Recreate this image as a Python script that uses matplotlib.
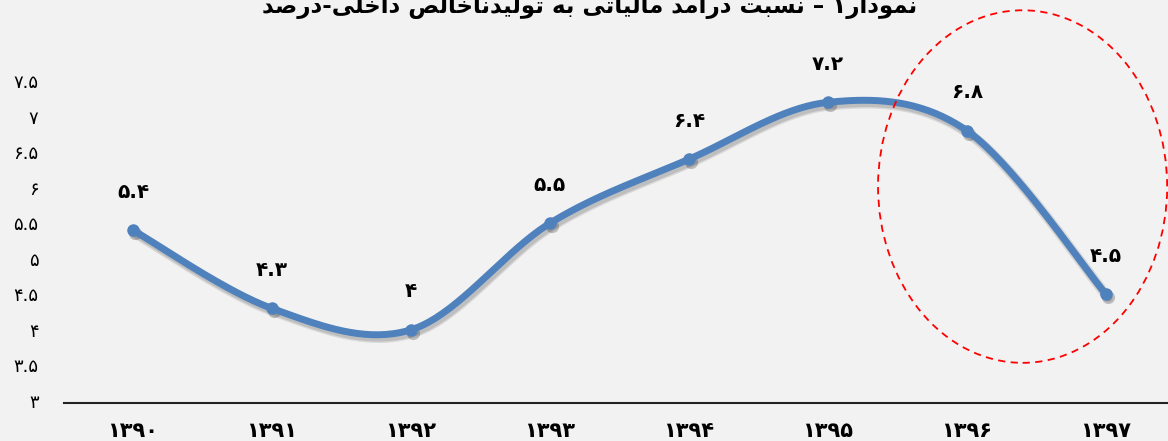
import numpy as np
import matplotlib
matplotlib.use("Agg")
import matplotlib.pyplot as plt
import matplotlib.transforms as mtransforms
from matplotlib.patches import Ellipse

plt.rcParams['font.family'] = ['DejaVu Sans']

# data
years = ['۱۳۹۰', '۱۳۹۱', '۱۳۹۲', '۱۳۹۳', '۱۳۹۴', '۱۳۹۵', '۱۳۹۶', '۱۳۹۷']
values = [5.4, 4.3, 4.0, 5.5, 6.4, 7.2, 6.8, 4.5]
value_labels = ['۵.۴', '۴.۳', '۴', '۵.۵', '۶.۴', '۷.۲', '۶.۸', '۴.۵']
y_ticks = [3, 3.5, 4, 4.5, 5, 5.5, 6, 6.5, 7, 7.5]
y_tick_labels = ['۳', '۳.۵', '۴', '۴.۵', '۵', '۵.۵', '۶', '۶.۵', '۷', '۷.۵']
title = 'نمودار۱ – نسبت درآمد مالیاتی به تولیدناخالص داخلی-درصد'

# arabic presentation forms: isolated, final, initial, medial
FORMS = {
    'ا': ('\uFE8D', '\uFE8E'),
    'آ': ('\uFE81', '\uFE82'),
    'د': ('\uFEA9', '\uFEAA'),
    'ر': ('\uFEAD', '\uFEAE'),
    'و': ('\uFEED', '\uFEEE'),
    'ب': ('\uFE8F', '\uFE90', '\uFE91', '\uFE92'),
    'ت': ('\uFE95', '\uFE96', '\uFE97', '\uFE98'),
    'خ': ('\uFEA5', '\uFEA6', '\uFEA7', '\uFEA8'),
    'س': ('\uFEB1', '\uFEB2', '\uFEB3', '\uFEB4'),
    'ص': ('\uFEB9', '\uFEBA', '\uFEBB', '\uFEBC'),
    'ل': ('\uFEDD', '\uFEDE', '\uFEDF', '\uFEE0'),
    'م': ('\uFEE1', '\uFEE2', '\uFEE3', '\uFEE4'),
    'ن': ('\uFEE5', '\uFEE6', '\uFEE7', '\uFEE8'),
    'ه': ('\uFEE9', '\uFEEA', '\uFEEB', '\uFEEC'),
    'ی': ('\uFBFC', '\uFBFD', '\uFBFE', '\uFBFF'),
}


def shape(text):
    # no bidi/reshaper available, so join letters by hand and reverse
    out = []
    for i, ch in enumerate(text):
        if ch not in FORMS:
            out.append(ch)
            continue
        f = FORMS[ch]
        prev = text[i - 1] if i > 0 else ''
        nxt = text[i + 1] if i + 1 < len(text) else ''
        join_prev = prev in FORMS and len(FORMS[prev]) == 4
        join_next = nxt in FORMS and len(f) == 4
        if join_prev and join_next:
            out.append(f[3])
        elif join_prev:
            out.append(f[1])
        elif join_next:
            out.append(f[2])
        else:
            out.append(f[0])
    return ''.join(out)[::-1]


def smooth(xs, ys, n=40):
    # excel-like smoothed line (catmull-rom as bezier)
    P = np.column_stack([xs, ys]).astype(float)
    P = np.vstack([P[0], P, P[-1]])
    curve = []
    t = np.linspace(0, 1, n)[:, None]
    for i in range(1, len(P) - 2):
        p0, p1, p2, p3 = P[i - 1], P[i], P[i + 1], P[i + 2]
        c1 = p1 + (p2 - p0) / 6
        c2 = p2 - (p3 - p1) / 6
        seg = (1 - t) ** 3 * p1 + 3 * (1 - t) ** 2 * t * c1 + 3 * (1 - t) * t ** 2 * c2 + t ** 3 * p2
        curve.append(seg)
    curve = np.vstack(curve)
    return curve[:, 0], curve[:, 1]


fig = plt.figure(figsize=(11.68, 4.41), dpi=100, facecolor='#f2f2f2')
ax = fig.add_axes([63.5 / 1168, 38 / 441, 1112 / 1168, 322 / 441])
ax.set_facecolor('#f2f2f2')

x = np.arange(len(values))
sx, sy = smooth(x, values)

# soft drop shadow, drawn a few pixels down-right
for dx, dy, a, w in [(2, -3, 0.10, 7.5), (2, -3, 0.12, 5.5)]:
    shift = mtransforms.offset_copy(ax.transData, fig=fig, x=dx, y=dy, units='dots')
    ax.plot(sx, sy, color='black', alpha=a, lw=w, solid_capstyle='round', transform=shift, zorder=2)
    ax.plot(x, values, 'o', color='black', alpha=a, ms=9.5, mew=0, transform=shift, zorder=2)

ax.plot(sx, sy, color='#4f81bd', lw=5, solid_capstyle='round', zorder=3)
ax.plot(x, values, 'o', color='#4f81bd', ms=9, mew=0, zorder=4)

for xi, v, lab in zip(x, values, value_labels):
    ax.annotate(lab, (xi, v), xytext=(0, 38), textcoords='offset pixels',
                ha='center', va='center', fontsize=14.5, fontweight='bold', color='black')

# red dashed ellipse highlighting the last two years
ell = Ellipse((6.40, 6.015), 2.08, 4.96, fill=False, edgecolor='red', ls=(0, (4, 3)), lw=1.3,
              clip_on=False, zorder=5)
ax.add_patch(ell)

ax.set_xlim(-0.5, 7.5)
ax.set_ylim(2.97, 7.5)
ax.set_xticks(x)
ax.set_xticklabels(years, fontsize=15, fontweight='bold')
ax.set_yticks(y_ticks)
ax.set_yticklabels(y_tick_labels, fontsize=13)
ax.tick_params(axis='both', length=0)
ax.tick_params(axis='x', pad=13)
ax.tick_params(axis='y', pad=18)
for side in ['top', 'right', 'left']:
    ax.spines[side].set_visible(False)
ax.spines['bottom'].set_color('#222222')
ax.spines['bottom'].set_linewidth(1.5)

fig.text(0.505, 0.989, shape(title), ha='center', va='center', fontsize=16.5, fontweight='bold')

fig.savefig('out.png', dpi=100, facecolor=fig.get_facecolor())
